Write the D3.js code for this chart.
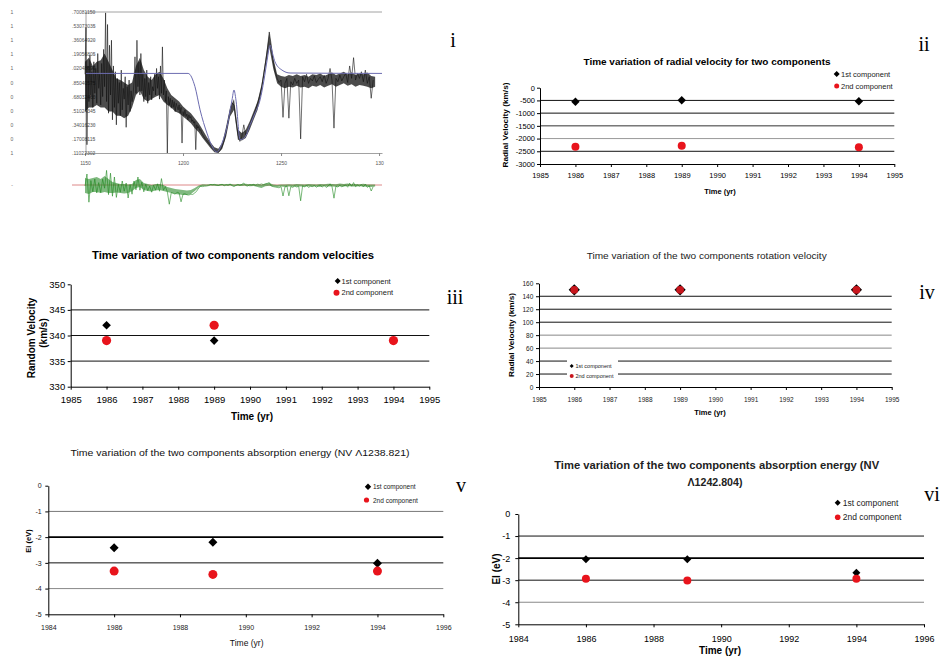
<!DOCTYPE html>
<html><head><meta charset="utf-8">
<script src="https://cdn.jsdelivr.net/npm/d3@7"></script>
<style>body{margin:0;background:#fff}svg{display:block}</style>
</head><body>
<svg id="c" width="941" height="657"></svg>
<script>
// ---------------- DATA ----------------
const years = [1986, 1989, 1994];
const radialV1 = [-550, -495, -535];
const radialV2 = [-2320, -2280, -2345];
const randomV1 = [342, 339, 339];
const randomV2 = [339, 342, 339];
const rotV1 = [150, 150, 150];
const rotV2 = [150, 150, 150];
const ei1238_1 = [-2.41, -2.20, -3.02];
const ei1238_2 = [-3.32, -3.45, -3.32];
const ei1242_1 = [-2.05, -2.05, -2.66];
const ei1242_2 = [-2.93, -3.02, -2.93];

const yearTicks1 = [1985, 1986, 1987, 1988, 1989, 1990, 1991, 1992, 1993, 1994, 1995];
const yearTicks2 = [1984, 1986, 1988, 1990, 1992, 1994, 1996];
const radialTicks = [0, -500, -1000, -1500, -2000, -2500, -3000];
const randomTicks = [330, 335, 340, 345, 350];
const rotTicks = [0, 20, 40, 60, 80, 100, 120, 140, 160];
const eiTicks = [0, -1, -2, -3, -4, -5];
const legendNames = ["1st component", "2nd component"];

// Panel i : spectrum (normalised flux)
const specTickVals = [1.7008115, 1.53073035, 1.3606492, 1.19056805, 1.0204869, 0.85040575, 0.6803246, 0.51024345, 0.3401623, 0.17008115, 1.11022302e-16];
const specTickText = [".70081150", ".53073035", ".36064920", ".19056805", ".02048690", ".85040575", ".68032460", ".51024345", ".34016230", ".17008115", ".11022302"];
const specTickLead = ["1", "1", "1", "1", "1", "0", "0", "0", "0", "0", "1"];
const specXTicks = [1150, 1200, 1250, 1300];
const specXText = ["1150", "1200", "1250", "130"];
// observed flux, 1150.0 .. 1209.5 step 0.5
const obsA = [
 0.95,1.51,0.10,1.05,0.62,1.18,0.70,0.98,0.55,1.10,
 0.72,1.02,0.60,1.20,0.78,0.95,0.58,1.08,0.68,1.25,
 0.80,1.69,0.62,1.55,0.48,1.30,0.70,1.36,0.40,1.05,
 0.55,0.98,0.34,0.90,0.60,0.85,0.45,1.00,0.52,0.78,
 0.65,0.92,0.31,0.80,0.58,0.88,0.50,0.75,0.62,0.70,
 0.85,1.16,0.72,1.36,0.80,1.10,0.70,1.20,0.75,0.95,
 0.62,0.90,0.68,1.00,0.60,0.85,0.70,0.92,0.64,0.80,
 0.75,0.95,0.70,1.02,0.78,0.92,0.65,1.05,0.72,1.28,
 0.70,0.88,0.62,0.75,0.00,0.68,0.58,0.66,0.54,0.64,
 0.55,0.62,0.50,0.60,0.56,0.52,0.58,0.48,0.55,0.12,
 0.50,0.45,0.52,0.44,0.47,0.40,0.46,0.42,0.44,0.38,
 0.40,0.36,0.38,0.04,0.34,0.30,0.32,0.27,0.28,0.24];
// observed flux, 1210 .. 1297 step 1
const obsB = [
 0.22,0.18,0.15,0.12,0.09,0.06,0.04,0.02,0.01,0.03,
 0.08,0.15,0.26,0.38,0.50,0.60,0.58,0.40,0.22,0.14,
 0.20,0.34,0.22,0.26,0.33,0.40,0.46,0.52,0.60,0.68,
 0.78,0.92,1.08,1.25,1.46,1.30,1.10,0.98,0.90,0.85,
 0.88,0.43,0.84,0.90,0.42,0.86,0.82,0.90,0.84,0.88,
 0.17,0.92,0.86,0.95,0.84,0.90,0.87,0.93,0.85,0.89,
 0.92,0.86,0.94,0.84,0.90,1.02,0.88,0.30,0.90,0.86,
 0.94,0.87,0.92,0.96,0.85,1.05,0.90,1.15,0.88,0.96,
 0.90,0.98,0.86,1.00,0.84,0.92,0.66,0.88];
// dense noise band of the observed spectrum, 1150 .. 1298 step 2
const obsUp = [
 1.10,1.15,1.05,1.10,1.12,1.20,1.10,1.00,0.90,0.88,
 0.85,0.82,0.85,1.05,1.15,1.00,0.92,0.88,0.95,0.98,
 0.90,0.78,0.70,0.66,0.62,0.56,0.52,0.48,0.42,0.36,
 0.28,0.20,0.13,0.07,0.05,0.12,0.32,0.55,0.65,0.28,
 0.24,0.28,0.38,0.50,0.62,0.82,1.12,1.45,1.15,0.95,
 0.93,0.92,0.94,0.93,0.95,0.93,0.94,0.92,0.95,0.94,
 0.96,0.93,0.95,0.97,0.94,0.96,0.98,0.95,0.97,0.94,
 0.96,0.95,0.97,0.93,0.92];
const obsLo = [
 0.50,0.55,0.55,0.58,0.55,0.55,0.50,0.50,0.45,0.45,
 0.42,0.45,0.55,0.70,0.75,0.65,0.62,0.65,0.68,0.70,
 0.62,0.58,0.55,0.50,0.48,0.44,0.40,0.36,0.30,0.25,
 0.18,0.12,0.06,0.01,0.00,0.05,0.20,0.44,0.52,0.16,
 0.15,0.18,0.28,0.40,0.52,0.72,1.02,1.28,1.02,0.84,
 0.80,0.78,0.80,0.79,0.81,0.79,0.80,0.78,0.81,0.80,
 0.82,0.79,0.81,0.83,0.80,0.82,0.84,0.81,0.83,0.80,
 0.82,0.81,0.80,0.78,0.80];
// fitted profile (wavelength, flux)
const fitLam  = [1150.5,1202.6,1206.1,1208.7,1212.2,1215.3,1217.3,1219.9,1222.4,1225.0,1226.0,1227.0,1229.1,1231.6,1234.2,1236.7,1239.3,1241.3,1242.9,1244.4,1245.9,1246.9,1250.5,1254.6,1301.5];
const fitFlux = [0.96,0.96,0.80,0.52,0.24,0.06,0.012,0.12,0.31,0.64,0.76,0.64,0.16,0.19,0.34,0.48,0.64,0.88,1.12,1.30,1.18,1.10,1.00,0.965,0.96];
// residuals, 1150 .. 1297 step 1
const resid = [
 -0.05,0.55,-0.86,0.22,-0.34,0.30,-0.40,0.12,-0.38,0.29,
 -0.16,0.73,-0.48,0.59,-0.56,0.40,-0.62,0.04,-0.36,0.20,
 -0.31,0.10,-0.65,0.02,-0.46,0.20,-0.24,0.40,-0.26,0.14,
 -0.34,0.04,-0.28,-0.06,-0.36,-0.01,-0.26,0.06,-0.31,0.32,
 -0.26,-0.08,-0.34,-0.96,-0.38,-0.41,-0.46,-0.36,-0.40,-0.84,
 -0.46,-0.44,-0.49,-0.50,-0.46,-0.47,-0.40,-0.30,-0.15,-0.06,
 -0.08,-0.06,-0.05,-0.03,0.02,0.01,0.03,0.00,-0.02,0.02,
 0.03,-0.04,0.02,-0.02,0.04,-0.03,-0.08,-0.02,0.03,-0.02,
 0.03,0.10,-0.03,-0.05,0.02,0.00,0.03,-0.02,0.04,0.02,
 0.05,0.02,0.06,0.08,0.12,-0.05,-0.08,-0.10,-0.12,-0.14,
 -0.08,-0.55,-0.10,-0.05,-0.54,-0.08,-0.12,-0.04,-0.10,-0.06,
 -0.79,-0.04,-0.10,0.00,-0.12,-0.06,-0.08,-0.02,-0.11,-0.05,
 -0.03,-0.10,-0.02,-0.12,-0.06,0.06,-0.08,-0.66,-0.06,-0.10,
 -0.02,-0.09,-0.04,0.00,-0.11,0.09,-0.06,0.12,-0.08,0.00,
 -0.06,0.02,-0.10,0.04,-0.12,-0.04,-0.30,-0.08];
// dense band of the residuals, 1150 .. 1298 step 2
const resUp = [
 0.35,0.30,0.35,0.40,0.30,0.45,0.30,0.15,0.10,0.05,
 0.05,0.02,0.05,0.25,0.30,0.10,0.05,0.00,0.05,0.05,
 0.00,-0.10,-0.15,-0.20,-0.22,-0.25,-0.28,-0.25,-0.15,-0.02,
 0.04,0.03,0.05,0.04,0.03,0.05,0.04,0.06,0.03,0.04,
 0.05,0.06,0.04,0.05,0.03,0.00,0.06,0.10,0.02,0.00,
 0.03,0.02,0.04,0.03,0.05,0.04,0.02,0.05,0.04,0.03,
 0.05,0.04,0.06,0.05,0.04,0.07,0.05,0.08,0.04,0.05,
 0.04,0.06,0.03,0.02,0.03];
const resLo = [
 -0.40,-0.45,-0.35,-0.35,-0.40,-0.35,-0.40,-0.40,-0.38,-0.40,
 -0.42,-0.40,-0.30,-0.15,-0.10,-0.25,-0.30,-0.32,-0.28,-0.25,
 -0.30,-0.35,-0.40,-0.45,-0.48,-0.50,-0.50,-0.45,-0.30,-0.12,
 -0.05,-0.04,-0.03,-0.04,-0.05,-0.03,-0.04,-0.03,-0.05,-0.04,
 -0.05,-0.03,-0.06,-0.05,-0.10,-0.15,-0.06,-0.04,-0.08,-0.10,
 -0.08,-0.10,-0.07,-0.09,-0.08,-0.07,-0.09,-0.06,-0.08,-0.07,
 -0.09,-0.06,-0.08,-0.07,-0.09,-0.06,-0.08,-0.05,-0.07,-0.08,
 -0.06,-0.07,-0.09,-0.10,-0.08];

// ---------------- DRAW ----------------
const F = "'Liberation Sans', Arial, sans-serif";
const FS = "'Liberation Serif', 'Times New Roman', serif";
const RED = "#e8141c";
const svg = d3.select('#c');

function txt(g, s, x, y, o) {
  o = o || {};
  const t = g.append('text').text(s).attr('x', x).attr('y', y)
    .attr('font-family', o.fam || F).attr('font-size', o.size || 8)
    .attr('font-weight', o.weight || 'normal').attr('fill', o.fill || '#000')
    .attr('text-anchor', o.anchor || 'middle').attr('dominant-baseline', 'central');
  if (o.len) t.attr('textLength', o.len).attr('lengthAdjust', 'spacingAndGlyphs');
  if (o.rot) t.attr('transform', `rotate(-90,${x},${y})`);
  return t;
}
const diamond = r => `M0,${-r}L${r},0L0,${r}L${-r},0Z`;

// ---- Panel i ----
(function () {
  const g = svg.append('g');
  const x = d3.scaleLinear().domain([1150, 1301.5]).range([85, 382]);
  const y = d3.scaleLinear().domain([0, 1.7008115]).range([153, 12]);
  const ax = '#8a8a8a';
  g.append('line').attr('x1', 86).attr('x2', 382).attr('y1', y(1.7008115)).attr('y2', y(1.7008115)).attr('stroke', ax).attr('stroke-width', 0.8);
  g.append('line').attr('x1', 86).attr('x2', 86).attr('y1', y(1.7008115)).attr('y2', y(0)).attr('stroke', ax).attr('stroke-width', 0.8);
  const xa = g.append('g').attr('transform', `translate(0,${y(0)})`)
    .call(d3.axisBottom(x).tickValues(specXTicks).tickSize(3).tickSizeOuter(0).tickPadding(5).tickFormat((d, i) => specXText[i]));
  xa.attr('font-family', F).attr('font-size', 5);
  xa.select('.domain').attr('stroke', ax).attr('stroke-width', 0.8);
  xa.selectAll('line').attr('stroke', ax);
  xa.selectAll('text').attr('fill', '#555');
  specTickVals.forEach((v, i) => {
    txt(g, specTickText[i], 72, y(v), {size: 5, anchor: 'start', fill: '#555'});
    txt(g, specTickLead[i], 12, y(v), {size: 5, anchor: 'middle', fill: '#666'});
    g.append('line').attr('x1', 92.5).attr('x2', 95).attr('y1', y(v)).attr('y2', y(v)).attr('stroke', ax).attr('stroke-width', 0.6);
  });
  const band = d3.area().x((d, i) => x(1150 + 2 * i)).y0((d, i) => y(obsLo[i])).y1(d => y(d));
  g.append('path').attr('d', band(obsUp)).attr('fill', '#000').attr('opacity', 0.7);
  const obs = obsA.map((f, i) => [1150 + i * 0.5, f]).concat(obsB.map((f, i) => [1210 + i, f]));
  const line = d3.line().x(d => x(d[0])).y(d => y(d[1]));
  g.append('path').attr('d', line(obs)).attr('fill', 'none').attr('stroke', '#111').attr('stroke-width', 0.6);
  const fit = fitLam.map((l, i) => [l, fitFlux[i]]);
  g.append('path').attr('d', d3.line().x(d => x(d[0])).y(d => y(d[1])).curve(d3.curveMonotoneX)(fit))
    .attr('fill', 'none').attr('stroke', '#6c6cb0').attr('stroke-width', 1);
  // residuals
  const yr = d3.scaleLinear().domain([-1, 1]).range([205, 165]);
  g.append('line').attr('x1', 72).attr('x2', 382).attr('y1', yr(0)).attr('y2', yr(0)).attr('stroke', '#d46a6a').attr('stroke-width', 0.8);
  txt(g, '-', 12, yr(0), {size: 5, fill: '#666'});
  const rband = d3.area().x((d, i) => x(1150 + 2 * i)).y0((d, i) => yr(resLo[i])).y1(d => yr(d));
  g.append('path').attr('d', rband(resUp)).attr('fill', '#2a8a2a').attr('opacity', 0.6);
  const rl = d3.line().x((d, i) => x(1150 + i)).y(d => yr(d));
  g.append('path').attr('d', rl(resid)).attr('fill', 'none').attr('stroke', '#1f881f').attr('stroke-width', 0.6);
})();

// ---- scatter panels ----
function scatter(p) {
  const g = svg.append('g');
  const x = d3.scaleLinear().domain(p.xd).range([p.x0, p.x1]);
  const y = d3.scaleLinear().domain(p.yd).range([p.yb, p.yt]);
  p.grid.forEach(gr => g.append('line').attr('x1', p.x0).attr('x2', p.x1)
    .attr('y1', y(gr[0])).attr('y2', y(gr[0])).attr('stroke', gr[1]).attr('stroke-width', gr[2]));
  if (p.box) g.append('rect').attr('x', p.box[0]).attr('y', p.box[1]).attr('width', p.box[2]).attr('height', p.box[3]).attr('fill', '#fff');
  const xa = g.append('g').attr('transform', `translate(0,${p.yb})`)
    .call(d3.axisBottom(x).tickValues(p.xt).tickSize(3).tickSizeOuter(0).tickPadding(p.xpad).tickFormat(d => String(d)));
  const ya = g.append('g').attr('transform', `translate(${p.x0},0)`)
    .call(d3.axisLeft(y).tickValues(p.yt_).tickSize(3).tickSizeOuter(0).tickPadding(p.ypad).tickFormat(d => String(d)));
  [xa, ya].forEach(a => {
    a.attr('font-family', F).attr('font-size', p.tf);
    a.select('.domain').attr('stroke', '#000').attr('stroke-width', 1);
    a.selectAll('line').attr('stroke', '#000');
    a.selectAll('text').attr('fill', p.tfill || '#000');
  });
  const s1 = years.map((yy, i) => [yy, p.s1[i]]);
  const s2 = years.map((yy, i) => [yy, p.s2[i]]);
  g.selectAll(null).data(s1).join('path').attr('d', diamond(p.dr))
    .attr('transform', d => `translate(${x(d[0])},${y(d[1])})`).attr('fill', '#000');
  g.selectAll(null).data(s2).join('circle').attr('cx', d => x(d[0])).attr('cy', d => y(d[1]))
    .attr('r', p.cr).attr('fill', p.red || RED);
  // legend
  const L = p.leg;
  g.append('path').attr('d', diamond(L.dr)).attr('transform', `translate(${L.mx},${L.y1})`).attr('fill', '#000');
  g.append('circle').attr('cx', L.mx2 || L.mx).attr('cy', L.y2).attr('r', L.cr).attr('fill', p.red || RED);
  txt(g, legendNames[0], L.tx, L.y1, {size: L.fs, anchor: 'start', fill: '#222'});
  txt(g, legendNames[1], L.tx, L.y2, {size: L.fs, anchor: 'start', fill: '#222'});
  p.titles.forEach(t => txt(g, t.s, t.x, t.y, t));
}

// ii
scatter({x0: 540, x1: 894.3, xd: [1985, 1995], yt: 87.7, yb: 164, yd: [-3000, 0],
  xt: yearTicks1, yt_: radialTicks, tf: 7.5, xpad: 6, ypad: 2,
  grid: [[-500, '#111', 1], [-1000, '#111', 1], [-1500, '#333', 1], [-2000, '#999', 1], [-2500, '#111', 1]],
  s1: radialV1, s2: radialV2, dr: 4.2, cr: 4,
  leg: {mx: 836.7, tx: 841, y1: 74, y2: 86, dr: 3, cr: 2.5, fs: 7.5},
  titles: [
    {s: 'Time variation of radial velocity for two components', x: 707, y: 61.7, size: 8.5, weight: 'bold', len: 247},
    {s: 'Time (yr)', x: 720, y: 191.7, size: 7.5, weight: 'bold'},
    {s: 'Radial Velocity (km/s)', x: 505, y: 125, size: 7.5, weight: 'bold', rot: true, len: 85}
  ]});

// iii
scatter({x0: 70.7, x1: 429.3, xd: [1985, 1995], yt: 284.3, yb: 386.7, yd: [330, 350],
  xt: yearTicks1, yt_: randomTicks, tf: 9.5, xpad: 7, ypad: 2.5,
  grid: [[335, '#111', 1], [340, '#111', 1], [345, '#111', 1]],
  s1: randomV1, s2: randomV2, dr: 4.3, cr: 4.6,
  leg: {mx: 337.7, mx2: 336.5, tx: 341.5, y1: 281, y2: 292.7, dr: 3, cr: 3, fs: 7.5},
  titles: [
    {s: 'Time variation of two components random velocities', x: 233, y: 255.7, size: 10, weight: 'bold', len: 282},
    {s: 'Time (yr)', x: 252, y: 416.5, size: 10, weight: 'bold'},
    {s: 'Random Velocity', x: 31.7, y: 338, size: 10, weight: 'bold', rot: true},
    {s: '(km/s)', x: 43.3, y: 333, size: 10, weight: 'bold', rot: true}
  ]});

// iv
scatter({x0: 539, x1: 891.7, xd: [1985, 1995], yt: 283.3, yb: 387, yd: [0, 160],
  xt: yearTicks1, yt_: rotTicks, tf: 6.5, xpad: 7, ypad: 2.7, tfill: '#222',
  grid: [[20, '#111', 1], [40, '#111', 1], [60, '#888', 1], [80, '#888', 1], [100, '#111', 1], [120, '#111', 1], [140, '#111', 1]],
  box: [567, 359, 51, 23],
  s1: rotV1, s2: rotV2, dr: 5.6, cr: 3.9, red: '#c8161d',
  leg: {mx: 571.7, tx: 575.5, y1: 366, y2: 376, dr: 2, cr: 2, fs: 5.5},
  titles: [
    {s: 'Time variation of the two components rotation velocity', x: 706.7, y: 255.7, size: 8.5, len: 240, fill: '#222'},
    {s: 'Time (yr)', x: 710, y: 412.3, size: 7.5, weight: 'bold'},
    {s: 'Radial Velocity (km/s)', x: 511.7, y: 335, size: 7.5, weight: 'bold', rot: true, len: 84}
  ]});

// v
scatter({x0: 48.3, x1: 443.3, xd: [1984, 1996], yt: 485.7, yb: 614.3, yd: [-5, 0],
  xt: yearTicks2, yt_: eiTicks, tf: 7, xpad: 8, ypad: 3.6, tfill: '#222',
  grid: [[-1, '#777', 1], [-2, '#000', 1.6], [-3, '#111', 1], [-4, '#888', 1]],
  s1: ei1238_1, s2: ei1238_2, dr: 4.5, cr: 4.5,
  leg: {mx: 368, mx2: 366.5, tx: 373, y1: 486.7, y2: 500, dr: 3.2, cr: 2.6, fs: 6.5},
  titles: [
    {s: 'Time variation of the two components absorption energy (NV \u039B1238.821)', x: 240, y: 453.3, size: 9, len: 339, fill: '#111'},
    {s: 'Time (yr)', x: 246.7, y: 643.3, size: 8.5, fill: '#111'},
    {s: 'Ei  (eV)', x: 28.3, y: 541, size: 7.5, weight: 'bold', rot: true}
  ]});

// vi
scatter({x0: 518.3, x1: 924, xd: [1984, 1996], yt: 514, yb: 624.3, yd: [-5, 0],
  xt: yearTicks2, yt_: eiTicks, tf: 9, xpad: 8.5, ypad: 5,
  grid: [[-1, '#111', 1], [-2, '#000', 1.8], [-3, '#111', 1], [-4, '#888', 1]],
  s1: ei1242_1, s2: ei1242_2, dr: 4, cr: 4,
  leg: {mx: 837.7, tx: 842.7, y1: 502.7, y2: 517.3, dr: 3, cr: 2.8, fs: 8.5},
  titles: [
    {s: 'Time variation of the two components absorption energy (NV', x: 716.7, y: 465, size: 10, weight: 'bold', len: 325, fill: '#222'},
    {s: '\u039B1242.804)', x: 715, y: 482.3, size: 10, weight: 'bold', len: 55, fill: '#222'},
    {s: 'Time (yr)', x: 720, y: 650.7, size: 10, weight: 'bold'},
    {s: 'EI (eV)', x: 496.7, y: 569, size: 10, weight: 'bold', rot: true}
  ]});

// panel numerals
const numerals = [['i', 453, 40], ['ii', 924, 44], ['iii', 455, 297], ['iv', 927, 292], ['v', 461, 485], ['vi', 932, 494]];
numerals.forEach(n => txt(svg, n[0], n[1], n[2], {fam: FS, size: 20}));
</script>
</body></html>
